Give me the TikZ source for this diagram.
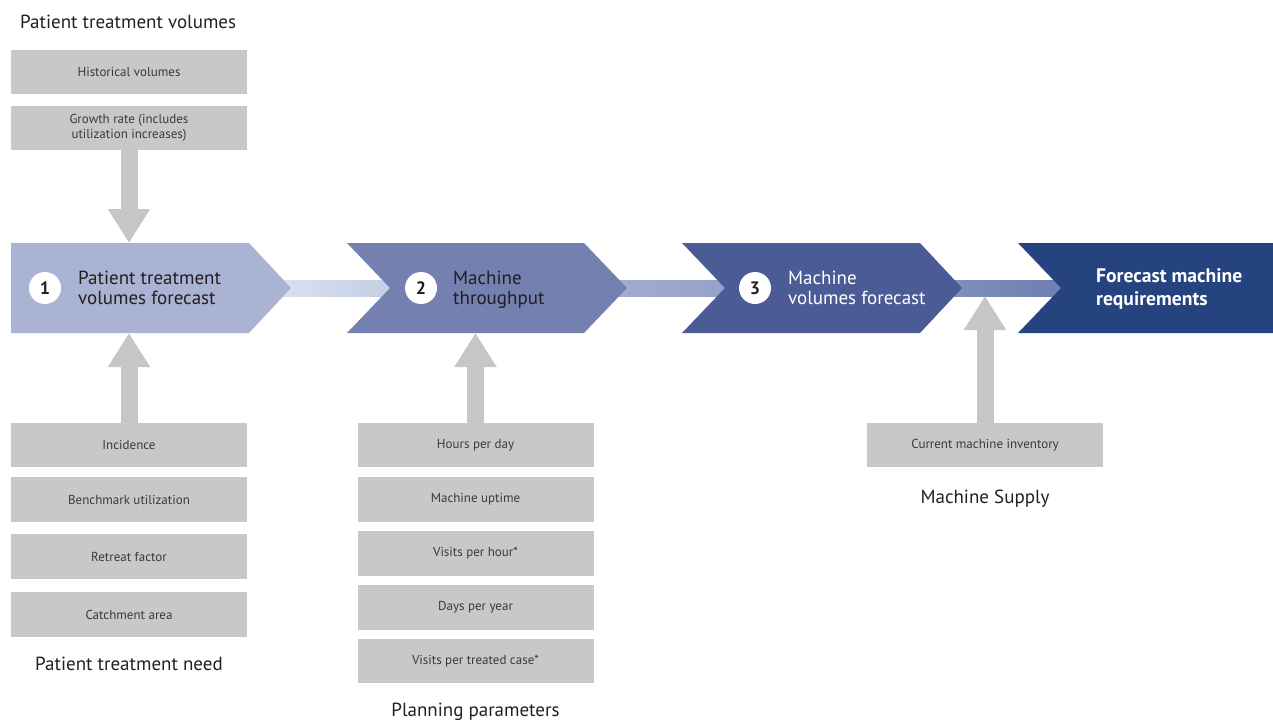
\documentclass[tikz,border=0pt]{standalone}
\usepackage{fontspec}
\setmainfont{PT Sans}
\usetikzlibrary{arrows.meta,calc}
\definecolor{chA}{HTML}{AAB3D3}
\definecolor{chB}{HTML}{7380B0}
\definecolor{chC}{HTML}{4B5B96}
\definecolor{chD}{HTML}{25437F}
\definecolor{barAl}{HTML}{DAE3F0}
\definecolor{barAr}{HTML}{C3CEE4}
\definecolor{barBl}{HTML}{A3AED0}
\definecolor{barBr}{HTML}{95A1C8}
\definecolor{barCl}{HTML}{8190BD}
\definecolor{barCr}{HTML}{6E7EB1}
\definecolor{boxgray}{HTML}{C8C8C9}
\definecolor{arrowgray}{HTML}{C6C6C7}
\definecolor{boxtext}{HTML}{3A3A3C}
\definecolor{headtext}{HTML}{231F20}
\begin{document}
\begin{tikzpicture}[x=1pt,y=-1pt,
  gbox/.style={fill=boxgray, minimum width=236pt, minimum height=44.5pt, inner sep=0pt,
    font=\fontsize{13}{15}\selectfont, text=boxtext, align=center},
  heading/.style={font=\fontsize{19}{22}\selectfont, text=headtext, inner sep=0pt},
  chevtext/.style={font=\fontsize{19}{20}\selectfont, align=left, anchor=west, inner sep=0pt, text depth=0pt},
  numcirc/.style={circle, fill=white, minimum size=32pt, inner sep=0pt,
    font=\fontsize{18}{18}\selectfont\bfseries, text=headtext},
  garrow/.style={draw=arrowgray, line width=17pt, -{Triangle[width=40pt,length=34pt]}}
]
\useasboundingbox (0,0) rectangle (1273,723);

% named points of the chevron row
\coordinate (t1) at (291,288);
\coordinate (n2) at (390,288);
\coordinate (t2) at (627,288);
\coordinate (n3) at (725,288);
\coordinate (t3) at (962,288);
\coordinate (n4) at (1061,288);

% connector bars (under the chevrons)
\shade[left color=barAl, right color=barAr] ($(t1)+(-20,-8)$) rectangle ($(n2)+(0,8)$);
\shade[left color=barBl, right color=barBr] ($(t2)+(-20,-8)$) rectangle ($(n3)+(0,8)$);
\shade[left color=barCl, right color=barCr] ($(t3)+(-20,-8)$) rectangle ($(n4)+(0,8)$);

% chevrons
\fill[chA] (11,243) -- (249,243) -- (t1) -- (249,333) -- (11,333) -- cycle;
\fill[chB] (347,243) -- (584,243) -- (t2) -- (584,333) -- (347,333) -- (n2) -- cycle;
\fill[chC] (682,243) -- (920,243) -- (t3) -- (920,333) -- (682,333) -- (n3) -- cycle;
\fill[chD] (1018,243) -- (1273,243) -- (1273,333) -- (1018,333) -- (n4) -- cycle;

% chevron contents
\node[numcirc] (k1) at (45,288) {1};
\node[chevtext, text=headtext] (s1) at (78,288) {Patient treatment\\volumes forecast};
\node[numcirc] (k2) at (421,288) {2};
\node[chevtext, text=headtext] (s2) at (453,288) {Machine\\throughput};
\node[numcirc] (k3) at (755,288) {3};
\node[chevtext, text=white] (s3) at (788,288) {Machine\\volumes forecast};
\node[chevtext, text=white, font=\fontsize{19.6}{23}\selectfont\bfseries] (s4) at (1096,287) {Forecast machine\\requirements};

% headings
\node[heading, anchor=base west] (hvol) at (20,28) {Patient treatment volumes};
\node[heading, anchor=base] (hneed) at (129,670) {Patient treatment need};
\node[heading, anchor=base] (hplan) at (475.5,716) {Planning parameters};
\node[heading, anchor=base] (hsup) at (985,503) {Machine Supply};

% gray input boxes
\node[gbox] (hist) at (129,72) {Historical volumes};
\node[gbox] (grow) at (129,128) {Growth rate (includes\\utilization increases)};
\node[gbox] (inc) at (129,445) {Incidence};
\node[gbox] (bench) at (129,499.5) {Benchmark utilization};
\node[gbox] (retr) at (129,556.5) {Retreat factor};
\node[gbox] (catch) at (129,614.5) {Catchment area};

\node[gbox] (hours) at (475.5,445) {Hours per day};
\node[gbox] (upt) at (475.5,499.5) {Machine uptime};
\node[gbox] (vph) at (475.5,553.5) {Visits per hour*};
\node[gbox] (days) at (475.5,607.5) {Days per year};
\node[gbox] (vptc) at (475.5,661) {Visits per treated case*};

\node[gbox] (inv) at (985,445) {Current machine inventory};

% arrow targets
\coordinate (c1top) at (129,243);
\coordinate (c1bot) at (129,333);
\coordinate (c2bot) at (475.5,333);
\coordinate (b3bot) at (985,296);

% gray arrows
\draw[garrow] (grow.south) -- (c1top);
\draw[garrow] (inc.north) -- (c1bot);
\draw[garrow] (hours.north) -- (c2bot);
\draw[garrow] (inv.north) -- (b3bot);
\end{tikzpicture}
\end{document}
